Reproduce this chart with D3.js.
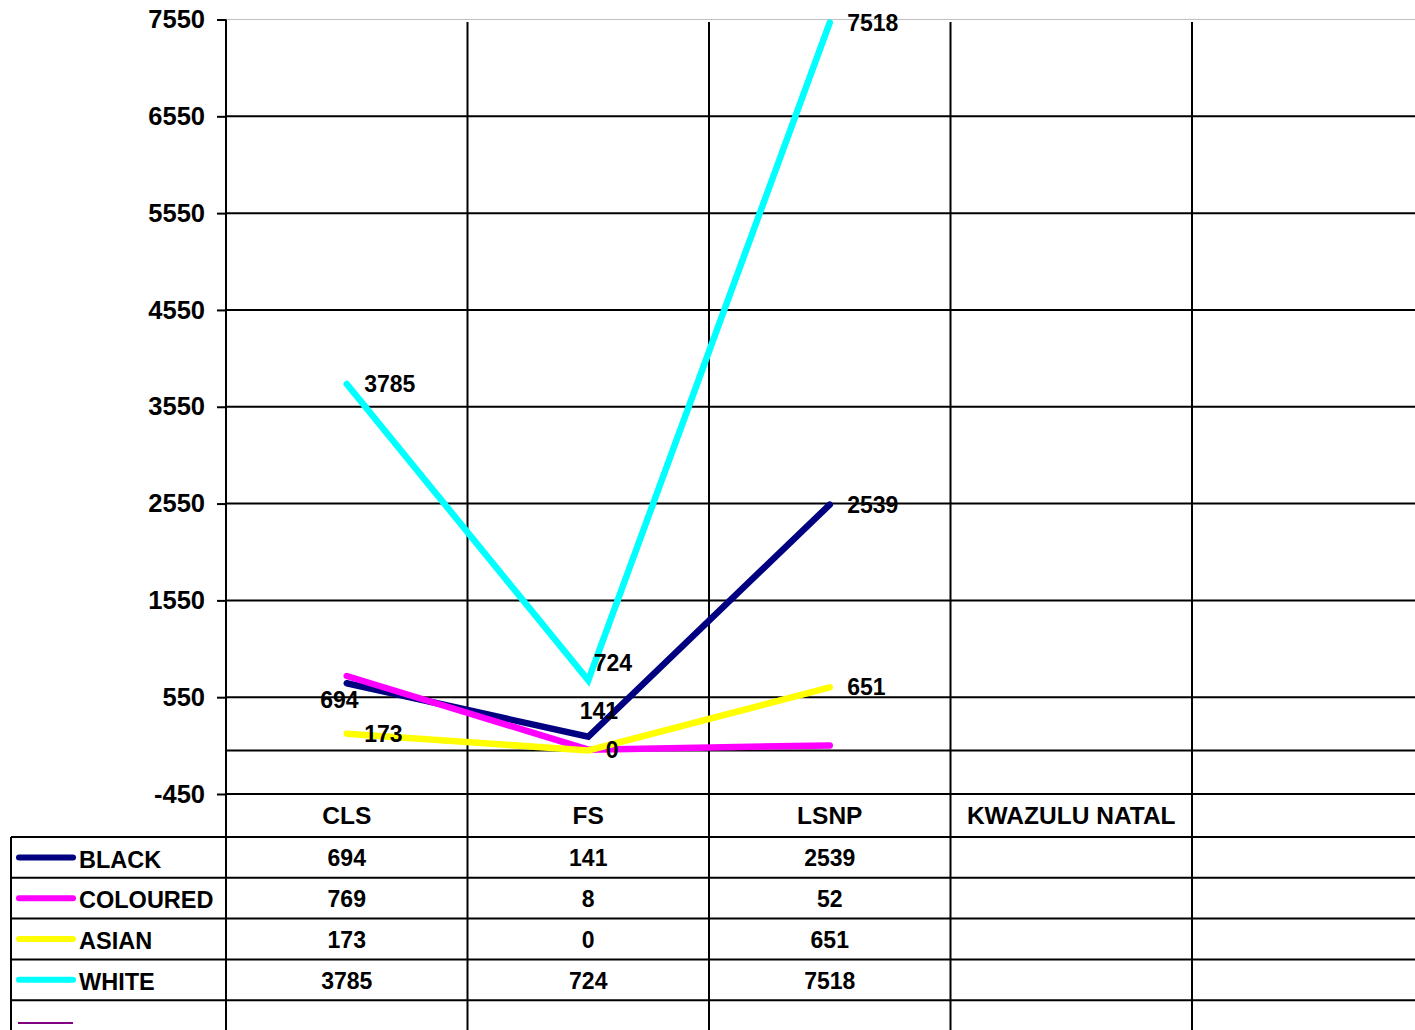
<!DOCTYPE html>
<html>
<head>
<meta charset="utf-8">
<script src="https://cdn.jsdelivr.net/npm/d3@7"></script>
<style>
  body { margin: 0; background: #fff; }
  text { font-family: "Liberation Sans", Arial, sans-serif; font-weight: bold; fill: #000; }
</style>
</head>
<body>
<svg id="chart" width="1415" height="1030"></svg>
<script>
var categories = ["CLS", "FS", "LSNP", "KWAZULU NATAL", " "];
var seriesNames = ["BLACK", "COLOURED", "ASIAN", "WHITE", ""];
var black = [694, 141, 2539, null, null];
var coloured = [769, 8, 52, null, null];
var asian = [173, 0, 651, null, null];
var white = [3785, 724, 7518, null, null];
var extra = [null, null, null, null, null];
var yTicks = [-450, 550, 1550, 2550, 3550, 4550, 5550, 6550, 7550];

var colors = ["#000080", "#FF00FF", "#FFFF00", "#00FFFF", "#800080"];
var widths = [6.5, 6.5, 6.5, 6.5, 2];
var showLabels = [true, false, true, true, false];
// hand nudges for a few labels that overlap in the original
var nudge = { "0-0": [-44, 17], "0-1": [-26, -26], "3-1": [-12, -17] };

var allSeries = [black, coloured, asian, white, extra];

var svg = d3.select("#chart");
var plotLeft = 226, plotTop = 19.5, plotBottom = 794;
var rowH = 40.8;

var x = d3.scaleBand().domain(categories).range([plotLeft, plotLeft + 5 * 241.5]);
var y = d3.scaleLinear().domain([-450, 7550]).range([plotBottom, plotTop]);

// horizontal grid lines
svg.append("g").selectAll("line")
  .data(yTicks.concat([0]))
  .enter().append("line")
  .attr("x1", plotLeft).attr("x2", 1415)
  .attr("y1", function(d) { return y(d); })
  .attr("y2", function(d) { return y(d); })
  .attr("stroke", function(d) { return d == 7550 ? "#c0c0c0" : "#000"; })
  .attr("stroke-width", function(d) { return d == 7550 ? 1 : 2; });

// y axis
var yAxis = svg.append("g")
  .attr("transform", "translate(" + plotLeft + ",0)")
  .call(d3.axisLeft(y).tickValues(yTicks).tickSize(9).tickPadding(12).tickFormat(function(d) { return String(d); }));
yAxis.select(".domain").remove();
yAxis.selectAll(".tick line").attr("stroke", "#000").attr("stroke-width", 2);
yAxis.selectAll(".tick text").attr("font-size", "25.5px").attr("font-family", null);
yAxis.append("line").attr("x1", 0).attr("x2", 0).attr("y1", plotTop).attr("y2", 1030)
  .attr("stroke", "#000").attr("stroke-width", 2);

// column separators
svg.append("g").selectAll("line")
  .data(categories.slice(1))
  .enter().append("line")
  .attr("x1", function(d) { return x(d); })
  .attr("x2", function(d) { return x(d); })
  .attr("y1", 22).attr("y2", 1030)
  .attr("stroke", "#000").attr("stroke-width", 2);

// table lines
var tableTop = 837;
svg.append("g").selectAll("line")
  .data(d3.range(6))
  .enter().append("line")
  .attr("x1", 11).attr("x2", 1415)
  .attr("y1", function(i) { return tableTop + i * rowH; })
  .attr("y2", function(i) { return tableTop + i * rowH; })
  .attr("stroke", "#000").attr("stroke-width", 2);
svg.append("line").attr("x1", 11).attr("x2", 11).attr("y1", tableTop).attr("y2", 1030)
  .attr("stroke", "#000").attr("stroke-width", 2);

// category labels
svg.append("g").selectAll("text")
  .data(categories)
  .enter().append("text")
  .attr("x", function(d) { return x(d) + x.bandwidth() / 2; })
  .attr("y", 815.5)
  .attr("dy", "0.35em")
  .attr("text-anchor", "middle")
  .attr("font-size", "24.5px")
  .text(function(d) { return d; });

// series lines
var line = d3.line()
  .defined(function(d) { return d != null; })
  .x(function(d, i) { return x(categories[i]) + x.bandwidth() / 2; })
  .y(function(d) { return y(d); });

allSeries.forEach(function(s, k) {
  svg.append("path")
    .datum(s)
    .attr("d", line)
    .attr("fill", "none")
    .attr("stroke", colors[k])
    .attr("stroke-width", widths[k])
    .attr("stroke-linecap", "round")
    .attr("stroke-linejoin", "miter");
});

// data labels
allSeries.forEach(function(s, k) {
  if (!showLabels[k]) return;
  s.forEach(function(v, i) {
    if (v == null) return;
    var n = nudge[k + "-" + i] || [0, 0];
    svg.append("text")
      .attr("x", x(categories[i]) + x.bandwidth() / 2 + 17.5 + n[0])
      .attr("y", y(v) + n[1])
      .attr("dy", "0.35em")
      .attr("font-size", "23px")
      .text(v);
  });
});

// table rows: legend keys, names, values
allSeries.forEach(function(s, k) {
  var cy = tableTop + k * rowH + rowH / 2;
  if (k < 4) {
    svg.append("line")
      .attr("x1", 19).attr("x2", 73)
      .attr("y1", cy).attr("y2", cy)
      .attr("stroke", colors[k]).attr("stroke-width", 6)
      .attr("stroke-linecap", "round");
  } else {
    svg.append("line")
      .attr("x1", 18).attr("x2", 73)
      .attr("y1", 1023).attr("y2", 1023)
      .attr("stroke", colors[k]).attr("stroke-width", 2);
  }
  svg.append("text")
    .attr("x", 79).attr("y", cy + 2)
    .attr("dy", "0.35em")
    .attr("font-size", "23.5px")
    .text(seriesNames[k]);
  s.forEach(function(v, i) {
    if (v == null) return;
    svg.append("text")
      .attr("x", x(categories[i]) + x.bandwidth() / 2)
      .attr("y", cy + 1)
      .attr("dy", "0.35em")
      .attr("text-anchor", "middle")
      .attr("font-size", "23px")
      .text(v);
  });
});
</script>
</body>
</html>
